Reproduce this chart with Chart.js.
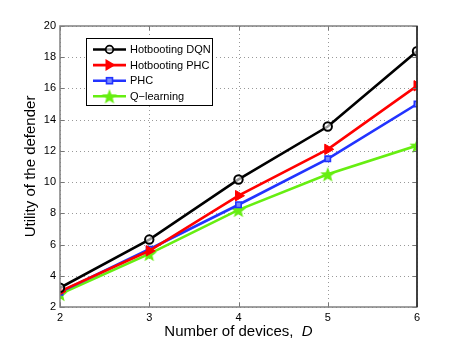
<!DOCTYPE html>
<html>
<head>
<meta charset="utf-8">
<script src="https://cdn.jsdelivr.net/npm/chart.js@4/dist/chart.umd.min.js"></script>
<style>
  html, body { margin: 0; padding: 0; background: #fff; }
  #wrap { width: 460px; height: 346px; }
</style>
</head>
<body>
<div id="wrap"><canvas id="Chart" width="460" height="346"></canvas></div>
<script>
let devices = [2, 3, 4, 5, 6];
let dqn = [3.23, 6.32, 10.17, 13.56, 18.38];
let hotPhc = [3.0, 5.6, 9.13, 12.1, 16.17];
let phc = [2.95, 5.7, 8.55, 11.49, 15.0];
let qLearning = [2.83, 5.4, 8.22, 10.5, 12.34];
let seriesNames = ['Hotbooting DQN', 'Hotbooting PHC', 'PHC', 'Q\u2212learning'];
let xTicks = [2, 3, 4, 5, 6];
let yTicks = [2, 4, 6, 8, 10, 12, 14, 16, 18, 20];

const FONT = '"Liberation Sans", Arial, sans-serif';

// filled pentagram, Matlab style
function makeStar(color, r) {
    let c = document.createElement('canvas');
    let s = Math.ceil(r * 2 + 2);
    c.width = s; c.height = s;
    let g = c.getContext('2d');
    g.beginPath();
    for (let i = 0; i < 10; i++) {
        let rad = i % 2 === 0 ? r : r * 0.42;
        let a = -Math.PI / 2 + i * Math.PI / 5;
        let px = s / 2 + rad * Math.cos(a), py = s / 2 + rad * Math.sin(a) + 0.8;
        if (i === 0) g.moveTo(px, py); else g.lineTo(px, py);
    }
    g.closePath();
    g.fillStyle = color;
    g.fill();
    return c;
}

let colors = ['#000000', '#ff0000', '#2233ff', '#66ee11'];
let star = makeStar(colors[3], 8);

function pairs(ys) {
    return devices.map(function (x, i) { return {x: x, y: ys[i]}; });
}

let styles = [
    {pointStyle: 'circle', pointRadius: 4.2, pointBackgroundColor: 'rgba(255,255,255,0.6)', pointBorderWidth: 2},
    {pointStyle: 'triangle', pointRadius: 6, rotation: 90, pointBackgroundColor: colors[1], pointBorderWidth: 1},
    {pointStyle: 'rect', pointRadius: 3.8, pointBackgroundColor: '#7788ff', pointBorderWidth: 1.6},
    {pointStyle: star, pointRadius: 8, pointBorderWidth: 0}
];

let datasets = [dqn, hotPhc, phc, qLearning].map(function (ys, i) {
    return Object.assign({
        label: seriesNames[i],
        data: pairs(ys),
        borderColor: colors[i],
        pointBorderColor: colors[i],
        borderWidth: 2.6,
        fill: false,
        tension: 0
    }, styles[i]);
});

// dotted grid under the lines
let grid = {
    id: 'grid',
    beforeDatasetsDraw: function (chart) {
        let ctx = chart.ctx;
        let a = chart.chartArea;
        let xs = chart.scales.x, ys = chart.scales.y;
        ctx.save();
        ctx.strokeStyle = '#999';
        ctx.lineWidth = 1;
        ctx.setLineDash([1, 3]);
        ctx.beginPath();
        xTicks.forEach(function (t) {
            let px = Math.round(xs.getPixelForValue(t)) + 0.5;
            ctx.moveTo(px, a.top); ctx.lineTo(px, a.bottom);
        });
        yTicks.forEach(function (t) {
            let py = Math.round(ys.getPixelForValue(t)) + 0.5;
            ctx.moveTo(a.left, py); ctx.lineTo(a.right, py);
        });
        ctx.stroke();
        ctx.restore();
    }
};

// frame, inner ticks, titles, legend
let decor = {
    id: 'decor',
    afterDraw: function (chart) {
        let ctx = chart.ctx;
        let a = chart.chartArea;
        let xs = chart.scales.x, ys = chart.scales.y;
        ctx.save();
        ctx.strokeStyle = '#777';
        ctx.lineWidth = 1;
        ctx.beginPath();
        xTicks.forEach(function (t) {
            let px = Math.round(xs.getPixelForValue(t)) + 0.5;
            ctx.moveTo(px, a.bottom); ctx.lineTo(px, a.bottom - 4);
            ctx.moveTo(px, a.top); ctx.lineTo(px, a.top + 4);
        });
        yTicks.forEach(function (t) {
            let py = Math.round(ys.getPixelForValue(t)) + 0.5;
            ctx.moveTo(a.left, py); ctx.lineTo(a.left + 4, py);
            ctx.moveTo(a.right, py); ctx.lineTo(a.right - 4, py);
        });
        ctx.stroke();
        ctx.lineWidth = 1.5;
        ctx.strokeStyle = '#808080';
        ctx.strokeRect(a.left, a.top, a.right - a.left, a.bottom - a.top);
        ctx.strokeStyle = '#222';
        ctx.beginPath();
        ctx.moveTo(a.right, a.top); ctx.lineTo(a.right, a.bottom);
        ctx.stroke();

        // axis titles
        ctx.fillStyle = '#000';
        ctx.textBaseline = 'middle';
        let t1 = 'Number of devices,  ';
        ctx.font = '15px ' + FONT;
        let w1 = ctx.measureText(t1).width;
        ctx.font = 'italic 15px ' + FONT;
        let w2 = ctx.measureText('D').width;
        let sx = (a.left + a.right) / 2 - (w1 + w2) / 2;
        ctx.textAlign = 'left';
        ctx.font = '15px ' + FONT;
        ctx.fillText(t1, sx, 332);
        ctx.font = 'italic 15px ' + FONT;
        ctx.fillText('D', sx + w1, 332);

        ctx.save();
        ctx.translate(31, (a.top + a.bottom) / 2);
        ctx.rotate(-Math.PI / 2);
        ctx.textAlign = 'center';
        ctx.font = '15px ' + FONT;
        ctx.fillText('Utility of the defender', 0, 0);
        ctx.restore();

        // legend
        let lx = 86.5, ly = 38.5, lw = 126, lh = 67;
        ctx.fillStyle = '#fff';
        ctx.fillRect(lx, ly, lw, lh);
        ctx.strokeStyle = '#000';
        ctx.lineWidth = 1;
        ctx.strokeRect(lx, ly, lw, lh);
        ctx.font = '11px ' + FONT;
        ctx.textAlign = 'left';
        chart.data.datasets.forEach(function (ds, i) {
            let cy = 49.5 + i * 15.6;
            ctx.strokeStyle = ds.borderColor;
            ctx.lineWidth = 2.6;
            ctx.beginPath();
            ctx.moveTo(93, cy); ctx.lineTo(126, cy);
            ctx.stroke();
            let cx = 109.5;
            if (i === 0) {
                ctx.beginPath();
                ctx.arc(cx, cy, 3.8, 0, Math.PI * 2);
                ctx.fillStyle = 'rgba(255,255,255,0.6)';
                ctx.fill();
                ctx.lineWidth = 1.8;
                ctx.stroke();
            } else if (i === 1) {
                ctx.beginPath();
                ctx.moveTo(cx - 4, cy - 6); ctx.lineTo(cx + 6, cy); ctx.lineTo(cx - 4, cy + 6);
                ctx.closePath();
                ctx.fillStyle = ds.borderColor;
                ctx.fill();
            } else if (i === 2) {
                ctx.fillStyle = '#7788ff';
                ctx.lineWidth = 1.6;
                ctx.fillRect(cx - 3, cy - 3, 6, 6);
                ctx.strokeRect(cx - 3, cy - 3, 6, 6);
            } else {
                ctx.drawImage(star, cx - star.width / 2, cy - star.height / 2);
            }
            ctx.fillStyle = '#000';
            ctx.fillText(ds.label, 130, cy + 0.5);
        });
        ctx.restore();
    }
};

let config = {
    type: 'line',
    data: {datasets: datasets},
    options: {
        responsive: false,
        animation: false,
        devicePixelRatio: 1,
        layout: {padding: {left: 0, right: 43, top: 26, bottom: 0}},
        plugins: {legend: {display: false}, tooltip: {enabled: false}},
        scales: {
            x: {
                type: 'linear',
                min: 2, max: 6,
                afterFit: function (s) { s.height = 39; },
                afterBuildTicks: function (s) { s.ticks = xTicks.map(function (v) { return {value: v}; }); },
                ticks: {color: '#000', font: {family: FONT, size: 11}, padding: 4, maxRotation: 0},
                grid: {display: false, drawTicks: false, tickLength: 0},
                border: {display: false}
            },
            y: {
                min: 2, max: 20,
                afterFit: function (s) { s.width = 60; },
                afterBuildTicks: function (s) { s.ticks = yTicks.map(function (v) { return {value: v}; }); },
                ticks: {color: '#000', font: {family: FONT, size: 11}, padding: 4},
                grid: {display: false, drawTicks: false, tickLength: 0},
                border: {display: false}
            }
        }
    },
    plugins: [grid, decor]
};

window.onload = function () {
    let ctx = document.getElementById('Chart').getContext('2d');
    window.myLine = new Chart(ctx, config);
};
</script>
</body>
</html>
